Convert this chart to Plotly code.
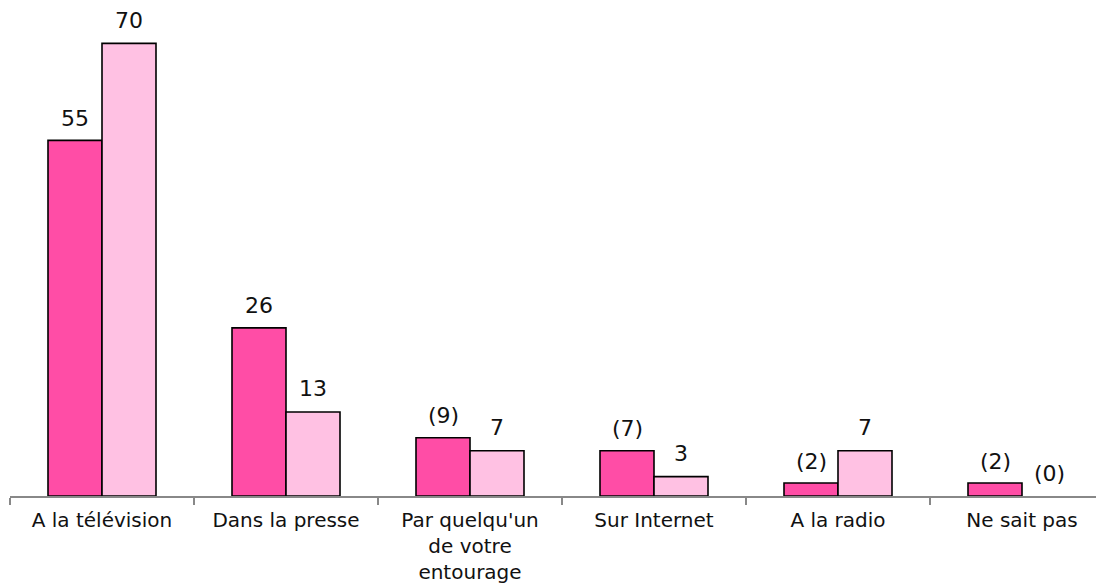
import plotly.graph_objects as go

categories = ["A la télévision", "Dans la presse", "Par quelqu'un<br>de votre<br>entourage",
              "Sur Internet", "A la radio", "Ne sait pas"]
series1 = [55, 26, 9, 7, 2, 2]
series2 = [70, 13, 7, 3, 7, 0]
labels1 = ["55", "26", "(9)", "(7)", "(2)", "(2)"]
labels2 = ["70", "13", "7", "3", "7", "(0)"]

color1 = "#FF4DA6"
color2 = "#FFC1E3"
font_family = "DejaVu Sans"
bargap = 0.413


def outline_widths(values):
    # no outline for zero-height bars
    return [1.6 if v > 0 else 0 for v in values]


fig = go.Figure()
fig.add_trace(go.Bar(x=categories, y=series1, name="Série 1",
                     marker=dict(color=color1, line=dict(color="black", width=outline_widths(series1)))))
fig.add_trace(go.Bar(x=categories, y=series2, name="Série 2",
                     marker=dict(color=color2, line=dict(color="black", width=outline_widths(series2)))))

half = (1 - bargap) / 4  # center offset of each bar inside a group
for i in range(len(categories)):
    fig.add_annotation(x=i - half, y=series1[i], text=labels1[i], showarrow=False,
                       xref="x", yref="y", yanchor="middle", yshift=22,
                       font=dict(size=22, color="#111", family=font_family))
    fig.add_annotation(x=i + half, y=series2[i], text=labels2[i], showarrow=False,
                       xref="x", yref="y", yanchor="middle", yshift=23,
                       font=dict(size=22, color="#111", family=font_family))

# the page body adds an 8px offset, so the figure is 8px smaller on each side
fig.update_layout(
    width=1096, height=575,
    margin=dict(l=2, r=0, t=3, b=87, autoexpand=False),
    barmode="group", bargap=bargap, bargroupgap=0,
    plot_bgcolor="white", paper_bgcolor="white",
    showlegend=False,
    font=dict(family=font_family, size=20, color="#111"),
)
fig.update_xaxes(
    type="category", automargin=False,
    range=[-0.5, -0.5 + 1094 / 184],
    showline=True, linecolor="#888888", linewidth=2,
    ticks="outside", tickson="boundaries", ticklen=7, tickwidth=2, tickcolor="#888888",
    ticklabelstandoff=5,
    showgrid=False, tickfont=dict(size=20, family=font_family, color="#111"),
)
fig.update_yaxes(range=[0, 75], visible=False, showgrid=False, zeroline=False, automargin=False)

fig.write_html("out.html")
